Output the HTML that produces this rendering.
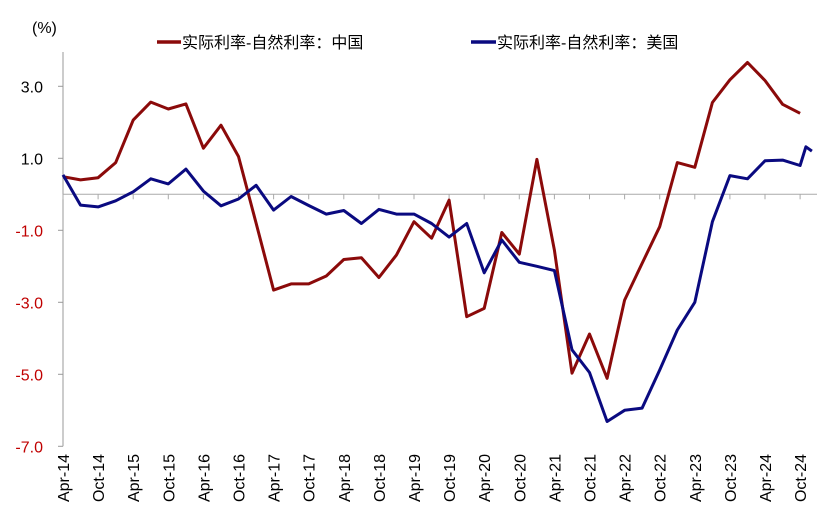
<!DOCTYPE html>
<html><head><meta charset="utf-8">
<style>
body{margin:0;background:#fff;}
svg{display:block;font-family:"Liberation Sans","Noto Sans CJK SC",sans-serif;}
</style></head>
<body>
<svg id="chart" width="838" height="523" viewBox="0 0 838 523">
  <text x="32" y="33" font-size="16" fill="#000">(%)</text>
  <g>
    <g>
      <line x1="157" y1="42" x2="181" y2="42" stroke="#8b0a0a" stroke-width="3.5"/>
      <text x="182" y="48" font-size="16" fill="#000">实际利率-自然利率：中国</text>
    </g>
    <g>
      <line x1="471" y1="42" x2="496" y2="42" stroke="#0a0a80" stroke-width="3.5"/>
      <text x="497" y="48" font-size="16" fill="#000">实际利率-自然利率：美国</text>
    </g>
  </g>
  <g id="axes"></g>
  <g id="series"></g>
</svg>
<script>
const xLabels=["Apr-14","Oct-14","Apr-15","Oct-15","Apr-16","Oct-16","Apr-17","Oct-17","Apr-18","Oct-18","Apr-19","Oct-19","Apr-20","Oct-20","Apr-21","Oct-21","Apr-22","Oct-22","Apr-23","Oct-23","Apr-24","Oct-24"];
const yTicks=[3,1,-1,-3,-5,-7];
const chinaValues=[0.49,0.40,0.46,0.88,2.06,2.56,2.37,2.51,1.28,1.92,1.05,-0.8,-2.66,-2.49,-2.49,-2.27,-1.81,-1.76,-2.31,-1.69,-0.76,-1.22,-0.16,-3.40,-3.17,-1.06,-1.66,0.97,-1.55,-4.97,-3.88,-5.11,-2.94,-1.92,-0.90,0.88,0.75,2.55,3.18,3.66,3.16,2.50,2.25];
const usValues=[0.54,-0.30,-0.35,-0.18,0.07,0.43,0.29,0.70,0.09,-0.32,-0.13,0.25,-0.44,-0.06,-0.31,-0.55,-0.45,-0.81,-0.42,-0.55,-0.55,-0.81,-1.19,-0.81,-2.18,-1.27,-1.89,-2.0,-2.12,-4.32,-4.95,-6.31,-6.0,-5.94,-4.88,-3.77,-3.0,-0.76,0.52,0.43,0.93,0.95,0.80,1.32,1.20];
const usExtraPeriods=[42.33,42.67];

const NS="http://www.w3.org/2000/svg";
const X0=63,QW=17.55,Y0=194.3,UNIT=36;
function xScale(q){return X0+q*QW;}
function yScale(v){return Y0-v*UNIT;}
function mk(tag,attrs,parent){const e=document.createElementNS(NS,tag);for(const k in attrs)e.setAttribute(k,attrs[k]);parent.appendChild(e);return e;}
const axes=document.getElementById('axes'),series=document.getElementById('series');

const yAxis=mk('line',{x1:X0,y1:52,x2:X0,y2:yScale(-7),stroke:'#999','stroke-width':1},axes);


yTicks.forEach(t=>{
  const y=yScale(t);
  const tk=mk('line',{x1:X0-5,y1:y,x2:X0,y2:y,stroke:'#999','stroke-width':1},axes);
  
  
  const lb=mk('text',{x:43,y:y+6,'font-size':16,'text-anchor':'end',fill:t<0?'#c00000':'#000'},axes);
  lb.textContent=t.toFixed(1);
  
  
});
const zl=mk('line',{x1:X0,y1:Y0,x2:817,y2:Y0,stroke:'#aaa','stroke-width':1},axes);


xLabels.forEach((l,i)=>{
  const x=xScale(i*2);
  const tk=mk('line',{x1:x,y1:Y0,x2:x,y2:Y0+5,stroke:'#aaa','stroke-width':1},axes);
  
  
  const lb=mk('text',{x:0,y:0,'font-size':16,'text-anchor':'end',fill:'#000',transform:`translate(${x+6},454) rotate(-90)`},axes);
  lb.textContent=l;
  
  
});
function pathFrom(pts){return pts.map((p,i)=>(i?'L':'M')+p[0].toFixed(1)+' '+p[1].toFixed(1)).join(' ');}
const cPts=chinaValues.map((v,i)=>[xScale(i),yScale(v)]);
const usPeriods=usValues.map((v,i)=>i<43?i:usExtraPeriods[i-43]);
const uPts=usValues.map((v,i)=>[xScale(usPeriods[i]),yScale(v)]);
const cl=mk('path',{d:pathFrom(cPts),fill:'none',stroke:'#8b0a0a','stroke-width':3,'stroke-linejoin':'round'},series);


const ul=mk('path',{d:pathFrom(uPts),fill:'none',stroke:'#0a0a80','stroke-width':3,'stroke-linejoin':'round'},series);


</script>
</body></html>
